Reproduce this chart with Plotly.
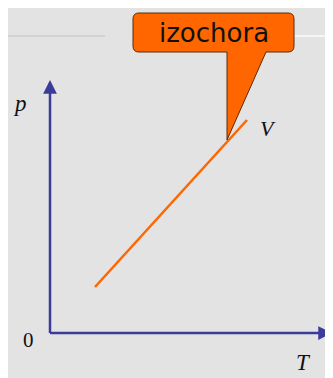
import plotly.graph_objects as go

# isochoric process: p grows linearly with T at constant V
T = [45, 197]
p = [46, 213]

axis_labels = {"x": "T", "y": "p"}
origin_label = "0"
line_label = "V"
callout_text = "izochora"

blue = "#3b3b9a"
orange = "#ff6600"

fig = go.Figure()

fig.add_trace(go.Scatter(x=T, y=p, mode="lines",
                         line=dict(color=orange, width=2.5),
                         hoverinfo="skip", showlegend=False))

# faint slide rule line near the top
fig.add_shape(type="line", x0=-42, x1=55, y0=297, y1=297,
              line=dict(color="#d2d2d2", width=2), layer="below")
fig.add_shape(type="line", x0=245, x1=291, y0=297, y1=297,
              line=dict(color="#f6f6f6", width=2), layer="below")

# axes with arrows
fig.add_annotation(x=0, y=253, ax=0, ay=-1.5, xref="x", yref="y", axref="x", ayref="y",
                   showarrow=True, arrowhead=2, arrowsize=1.1, arrowwidth=2.5,
                   arrowcolor=blue, text="")
fig.add_annotation(x=282, y=0, ax=-1.5, ay=0, xref="x", yref="y", axref="x", ayref="y",
                   showarrow=True, arrowhead=2, arrowsize=1.1, arrowwidth=2.5,
                   arrowcolor=blue, text="")

serif = "Liberation Serif"
fig.add_annotation(x=-30, y=230, text="<i>" + axis_labels["y"] + "</i>", showarrow=False,
                   font=dict(family=serif, size=23, color="#111111"))
fig.add_annotation(x=253, y=-29, text="<i>" + axis_labels["x"] + "</i>", showarrow=False,
                   font=dict(family=serif, size=23, color="#111111"))
fig.add_annotation(x=-22, y=-7, text=origin_label, showarrow=False,
                   font=dict(family=serif, size=21, color="#111111"))
fig.add_annotation(x=218, y=205, text="<i>" + line_label + "</i>", showarrow=False,
                   font=dict(family=serif, size=22, color="#111111"))

# callout bubble
fig.add_shape(type="path", xref="x", yref="y",
              path="M 89 320 L 238 320 Q 244 320 244 314 L 244 287 Q 244 281 238 281 "
                   "L 216 281 L 177 193 L 177 281 L 89 281 Q 83 281 83 287 "
                   "L 83 314 Q 83 320 89 320 Z",
              fillcolor=orange, line=dict(color="#5a2a00", width=1))
fig.add_annotation(x=163.5, y=300, text=callout_text, showarrow=False,
                   font=dict(family="DejaVu Sans", size=26, color="#111111"))

# the page body keeps an 8px white margin, so the figure starts at (8, 8)
fig.update_xaxes(range=[-42, 291], visible=False, fixedrange=True)
fig.update_yaxes(range=[-53, 325], visible=False, fixedrange=True)
fig.update_layout(width=333, height=378, margin=dict(l=0, r=0, t=0, b=0),
                  paper_bgcolor="#e3e3e3", plot_bgcolor="#e3e3e3")

fig.write_html("out.html", config={"displayModeBar": False})
